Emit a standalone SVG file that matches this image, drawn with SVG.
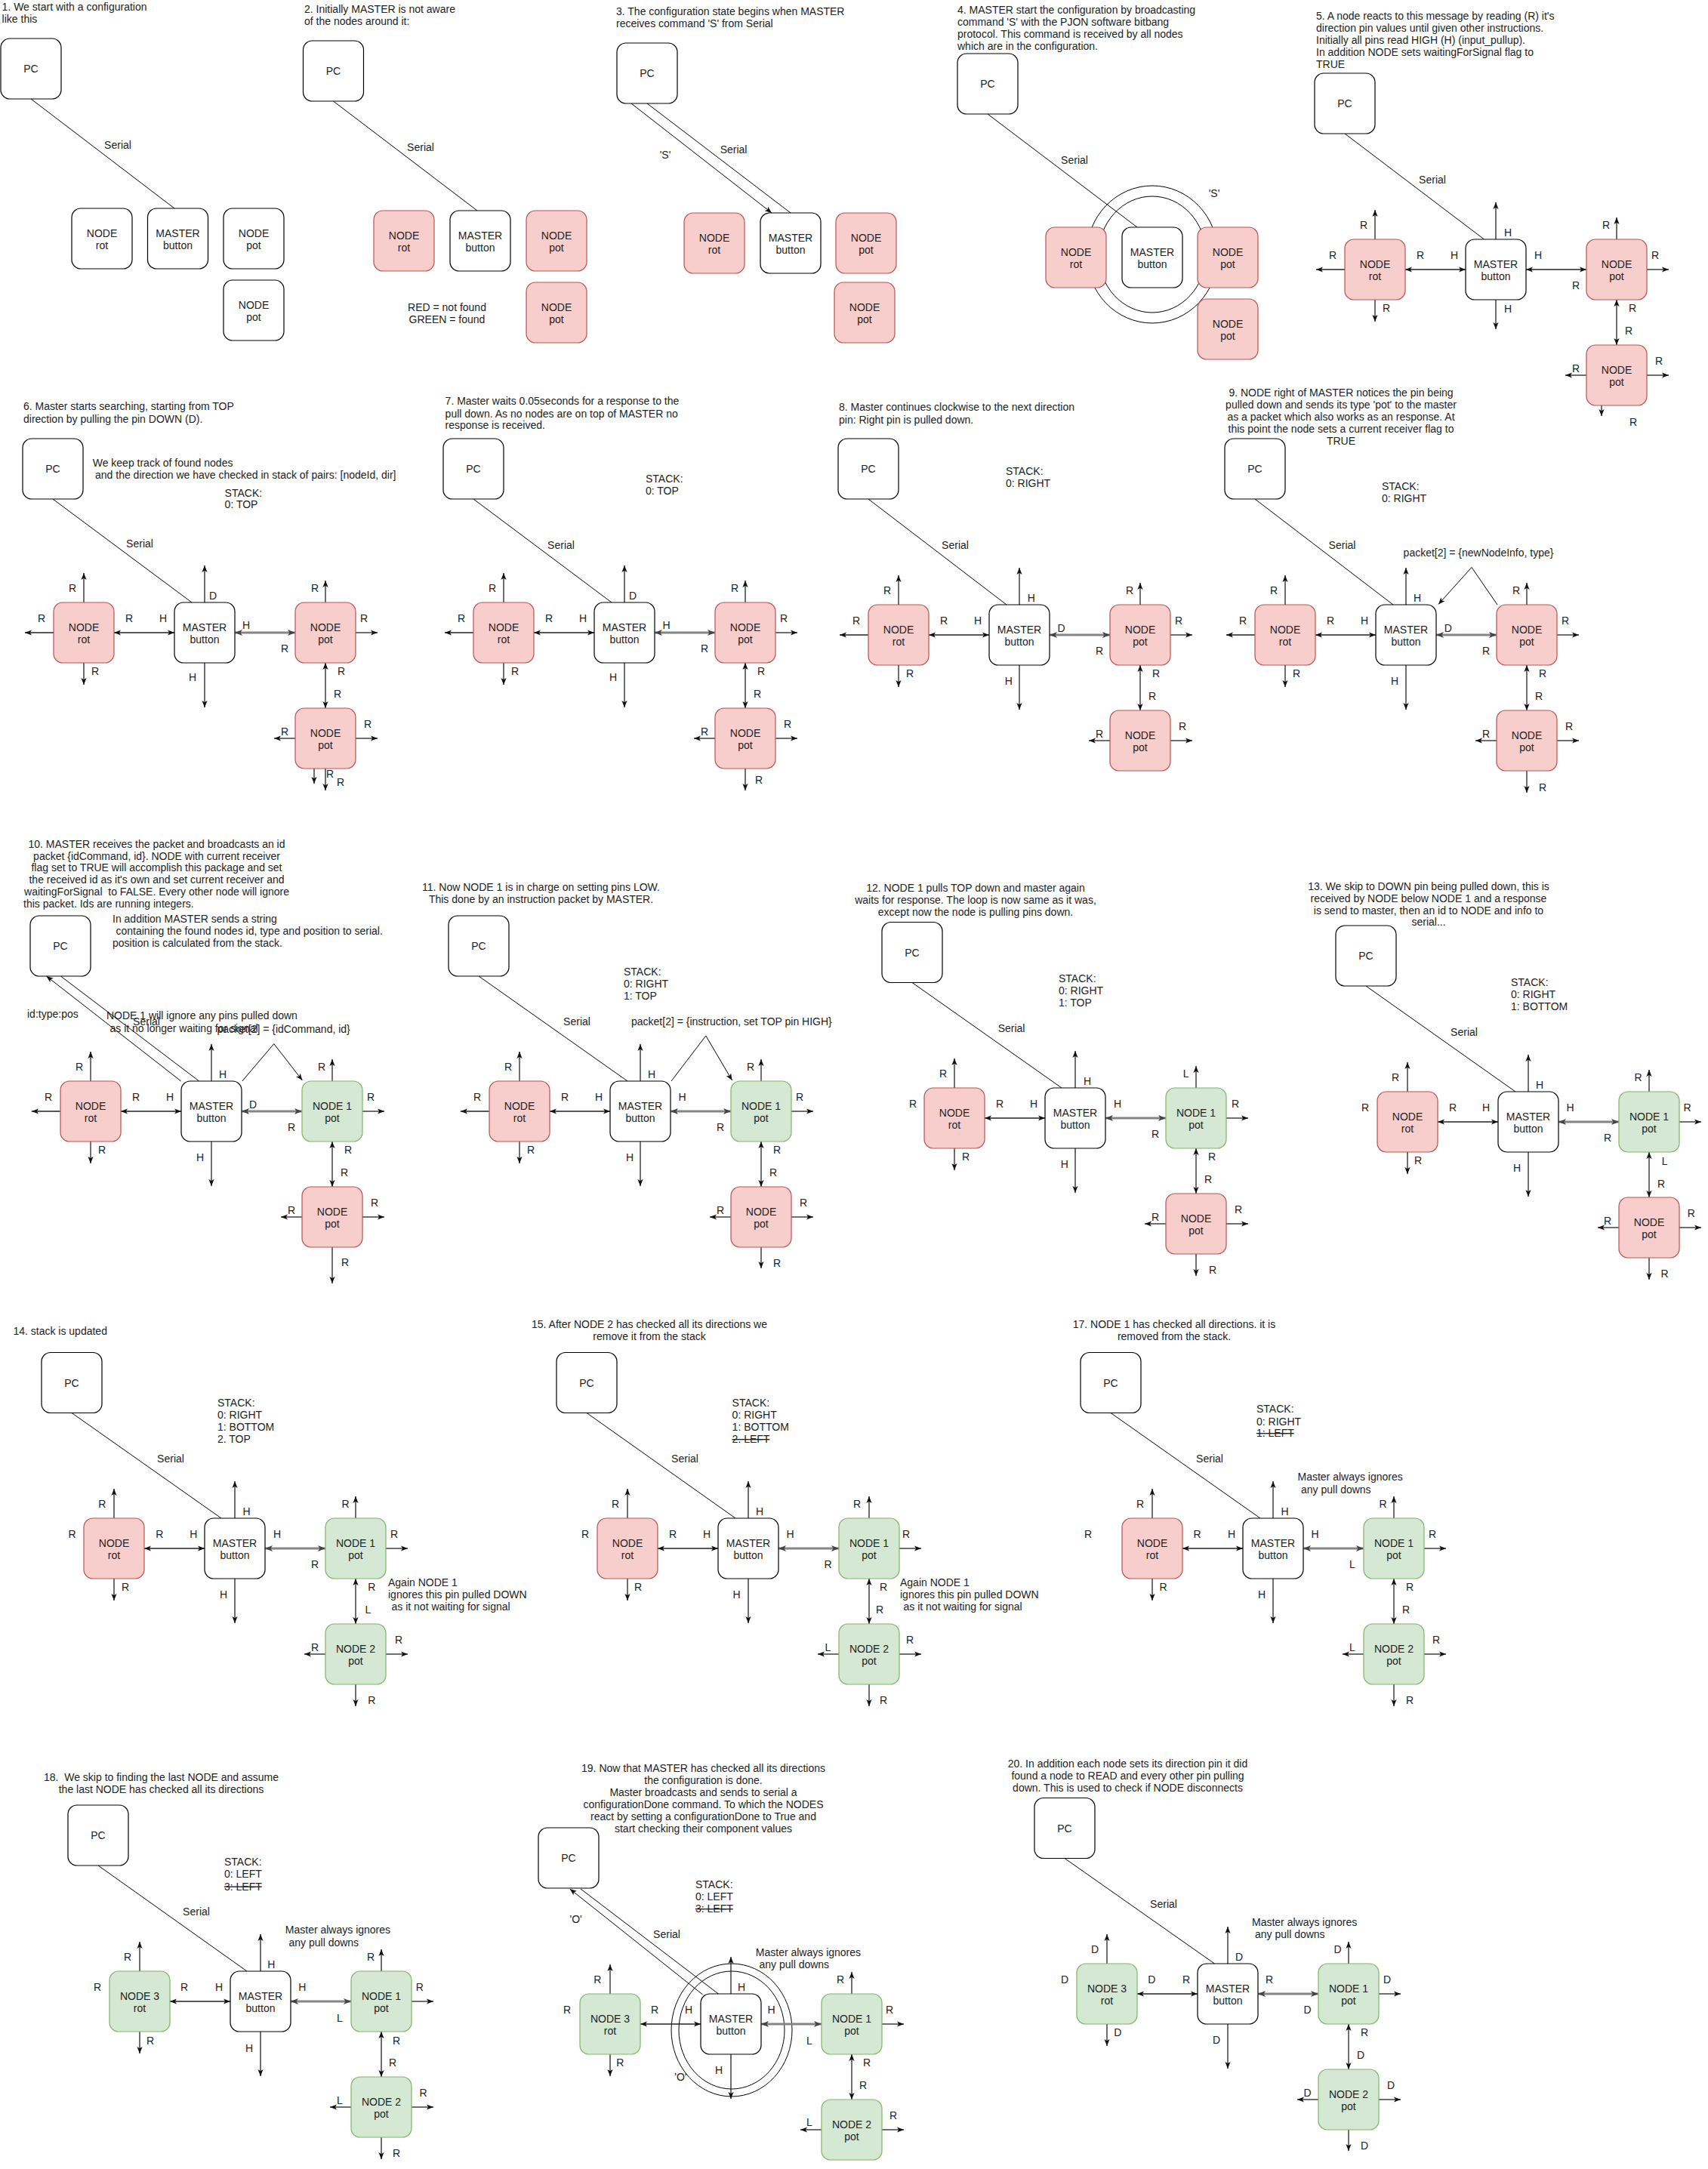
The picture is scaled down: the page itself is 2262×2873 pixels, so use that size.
<svg xmlns="http://www.w3.org/2000/svg" width="2262" height="2873" viewBox="0 0 2262 2873">
<defs>
<marker id="ah" viewBox="0 0 10 8" refX="10" refY="4" markerWidth="9" markerHeight="7.2" markerUnits="userSpaceOnUse" orient="auto-start-reverse"><path d="M0,0L10,4L0,8L2.5,4Z" fill="#111"/></marker>
<marker id="ahg" viewBox="0 0 10 8" refX="10" refY="4" markerWidth="10" markerHeight="8" markerUnits="userSpaceOnUse" orient="auto-start-reverse"><path d="M0,0L10,4L0,8L2.5,4Z" fill="#444"/></marker>
</defs>
<style>
text{font-family:"Liberation Sans",Arial,Helvetica,sans-serif;font-size:14px;fill:#222}
.m{text-anchor:middle}
.k{text-decoration:line-through}
.w{fill:#fff;stroke:#000;stroke-width:1.2}
.r{fill:#f8cecc;stroke:#b85450;stroke-width:1.2}
.g{fill:#d5e8d4;stroke:#82b366;stroke-width:1.2}
.s{fill:none;stroke:#000;stroke-width:1}
.sa{fill:none;stroke:#000;stroke-width:1;marker-end:url(#ah)}
.p{fill:none;stroke:#222;stroke-width:1.3;marker-end:url(#ah)}
.pd{fill:none;stroke:#222;stroke-width:1.3;marker-start:url(#ah);marker-end:url(#ah)}
.gd{fill:none;stroke:#858585;stroke-width:3;marker-start:url(#ahg);marker-end:url(#ahg)}
.ci{fill:none;stroke:#000;stroke-width:1}
</style>
<rect width="2262" height="2873" fill="#fff"/>

<!-- PANEL 1 -->
<g id="panel1">
<text x="2.6" y="14.3">1. We start with a configuration</text>
<text x="2.6" y="30">like this</text>
<g id="p1-connectors"><path class="s" d="M41,131L231,276"/><text class="m" x="156" y="197">Serial</text></g>
<g id="p1-pc"><rect class="w" x="1" y="51" width="80" height="80" rx="12"/><text class="m" x="41" y="96">PC</text></g>
<g id="p1-rot"><rect class="w" x="95" y="276" width="80" height="80" rx="12"/><text class="m" x="135" y="313.5">NODE</text><text class="m" x="135" y="330">rot</text></g>
<g id="p1-master"><rect class="w" x="195.5" y="276" width="80" height="80" rx="12"/><text class="m" x="235.5" y="313.5">MASTER</text><text class="m" x="235.5" y="330">button</text></g>
<g id="p1-pot1"><rect class="w" x="296" y="276" width="80" height="80" rx="12"/><text class="m" x="336" y="313.5">NODE</text><text class="m" x="336" y="330">pot</text></g>
<g id="p1-pot2"><rect class="w" x="296" y="371" width="80" height="80" rx="12"/><text class="m" x="336" y="408.5">NODE</text><text class="m" x="336" y="425">pot</text></g>
</g>

<!-- PANEL 2 -->
<g id="panel2">
<text x="403" y="17.3">2. Initially MASTER is not aware</text>
<text x="403" y="33">of the nodes around it:</text>
<g id="p2-connectors"><path class="s" d="M441.5,134L632,279"/><text class="m" x="557" y="200">Serial</text></g>
<g id="p2-pc"><rect class="w" x="401.5" y="54" width="80" height="80" rx="12"/><text class="m" x="441.5" y="99">PC</text></g>
<g id="p2-rot"><rect class="r" x="495" y="279" width="80" height="80" rx="12"/><text class="m" x="535" y="316.5">NODE</text><text class="m" x="535" y="333">rot</text></g>
<g id="p2-master"><rect class="w" x="596" y="279" width="80" height="80" rx="12"/><text class="m" x="636" y="316.5">MASTER</text><text class="m" x="636" y="333">button</text></g>
<g id="p2-pot1"><rect class="r" x="697" y="279" width="80" height="80" rx="12"/><text class="m" x="737" y="316.5">NODE</text><text class="m" x="737" y="333">pot</text></g>
<g id="p2-pot2"><rect class="r" x="697" y="374" width="80" height="80" rx="12"/><text class="m" x="737" y="411.5">NODE</text><text class="m" x="737" y="428">pot</text></g>
<text class="m" x="592" y="412">RED = not found</text>
<text class="m" x="592" y="428">GREEN = found</text>
</g>

<!-- PANEL 3 -->
<g id="panel3">
<text x="816" y="20">3. The configuration state begins when MASTER</text>
<text x="816" y="36">receives command 'S' from Serial</text>
<g id="p3-connectors"><path class="sa" d="M836,137L1022,282"/><path class="s" d="M857,137L1047,282"/><text class="m" x="971.6" y="203">Serial</text><text class="m" x="881" y="210">'S'</text></g>
<g id="p3-pc"><rect class="w" x="817" y="57" width="80" height="80" rx="12"/><text class="m" x="857" y="102">PC</text></g>
<g id="p3-rot"><rect class="r" x="906" y="282" width="80" height="80" rx="12"/><text class="m" x="946" y="319.5">NODE</text><text class="m" x="946" y="336">rot</text></g>
<g id="p3-master"><rect class="w" x="1007" y="282" width="80" height="80" rx="12"/><text class="m" x="1047" y="319.5">MASTER</text><text class="m" x="1047" y="336">button</text></g>
<g id="p3-pot1"><rect class="r" x="1107" y="282" width="80" height="80" rx="12"/><text class="m" x="1147" y="319.5">NODE</text><text class="m" x="1147" y="336">pot</text></g>
<g id="p3-pot2"><rect class="r" x="1105" y="374" width="80" height="80" rx="12"/><text class="m" x="1145" y="411.5">NODE</text><text class="m" x="1145" y="428">pot</text></g>
</g>

<!-- PANEL 4 -->
<g id="panel4">
<text x="1268" y="18">4. MASTER start the configuration by broadcasting</text>
<text x="1268" y="34">command 'S' with the PJON software bitbang</text>
<text x="1268" y="50">protocol. This command is received by all nodes</text>
<text x="1268" y="66">which are in the configuration.</text>
<g id="p4-broadcast"><ellipse class="ci" cx="1526" cy="337" rx="87" ry="91"/><ellipse class="ci" cx="1526" cy="337" rx="71" ry="77"/></g>
<g id="p4-connectors"><path class="s" d="M1308,151L1506,301"/><text class="m" x="1423" y="217">Serial</text><text class="m" x="1608" y="261">'S'</text></g>
<g id="p4-pc"><rect class="w" x="1268" y="71" width="80" height="80" rx="12"/><text class="m" x="1308" y="116">PC</text></g>
<g id="p4-rot"><rect class="r" x="1385" y="301" width="80" height="80" rx="12"/><text class="m" x="1425" y="338.5">NODE</text><text class="m" x="1425" y="355">rot</text></g>
<g id="p4-master"><rect class="w" x="1486" y="301" width="80" height="80" rx="12"/><text class="m" x="1526" y="338.5">MASTER</text><text class="m" x="1526" y="355">button</text></g>
<g id="p4-pot1"><rect class="r" x="1586" y="301" width="80" height="80" rx="12"/><text class="m" x="1626" y="338.5">NODE</text><text class="m" x="1626" y="355">pot</text></g>
<g id="p4-pot2"><rect class="r" x="1586" y="396" width="80" height="80" rx="12"/><text class="m" x="1626" y="433.5">NODE</text><text class="m" x="1626" y="450">pot</text></g>
</g>

<!-- PANEL 5 -->
<g id="panel5">
<text x="1743" y="26">5. A node reacts to this message by reading (R) it's</text>
<text x="1743" y="42">direction pin values until given other instructions.</text>
<text x="1743" y="58">Initially all pins read HIGH (H) (input_pullup).</text>
<text x="1743" y="74">In addition NODE sets waitingForSignal flag to</text>
<text x="1743" y="90">TRUE</text>
<g id="p5-serial"><path class="s" d="M1781,177L1965.5,317"/><text class="m" x="1897" y="243">Serial</text></g>
<g id="p5-pc"><rect class="w" x="1741" y="97" width="80" height="80" rx="12"/><text class="m" x="1781" y="142">PC</text></g>
<g transform="translate(1941,317)">
<g id="p5-connectors">
<path class="p" d="M-120,0V-39"/><path class="p" d="M-160,40H-198"/><path class="p" d="M-120,80V109"/><path class="pd" d="M-80,40H0"/>
<path class="p" d="M40,0V-49"/><path class="p" d="M40,80V119"/><path class="pd" d="M80,40H160"/>
<path class="p" d="M200,0V-29"/><path class="p" d="M240,40H269"/><path class="pd" d="M200,80V140"/>
<path class="p" d="M160,180H132"/><path class="p" d="M240,180H269"/><path class="p" d="M180,220V234"/>
</g>
<g id="p5-rot"><rect class="r" x="-160" y="0" width="80" height="80" rx="12"/><text class="m" x="-120" y="37.5">NODE</text><text class="m" x="-120" y="54">rot</text></g>
<g id="p5-master"><rect class="w" x="0" y="0" width="80" height="80" rx="12"/><text class="m" x="40" y="37.5">MASTER</text><text class="m" x="40" y="54">button</text></g>
<g id="p5-pot1"><rect class="r" x="160" y="0" width="80" height="80" rx="12"/><text class="m" x="200" y="37.5">NODE</text><text class="m" x="200" y="54">pot</text></g>
<g id="p5-pot2"><rect class="r" x="160" y="140" width="80" height="80" rx="12"/><text class="m" x="200" y="177.5">NODE</text><text class="m" x="200" y="194">pot</text></g>
<g class="m">
<text x="-135" y="-14">R</text><text x="-176" y="26">R</text><text x="-60" y="26">R</text><text x="-15" y="26">H</text><text x="-105" y="96">R</text>
<text x="56" y="-4">H</text><text x="96" y="26">H</text><text x="56" y="96.5">H</text>
<text x="186" y="-14">R</text><text x="251" y="26">R</text><text x="146" y="66">R</text><text x="221" y="96">R</text>
<text x="216" y="126">R</text><text x="146" y="176">R</text><text x="256" y="166">R</text><text x="222" y="246.5">R</text>
</g>
</g>
</g>

<!-- PANEL 6 -->
<g id="panel6">
<text x="31" y="543.4">6. Master starts searching, starting from TOP</text>
<text x="31" y="560">direction by pulling the pin DOWN (D).</text>
<text x="122.7" y="617.8">We keep track of found nodes</text>
<text x="126" y="633.6"> and the direction we have checked in stack of pairs: [nodeId, dir]</text>
<text x="297.6" y="657.6">STACK:</text><text x="297.6" y="673">0: TOP</text>
<g id="p6-serial"><path class="s" d="M70,661L254,798"/><text class="m" x="185" y="725">Serial</text></g>
<g id="p6-pc"><rect class="w" x="30" y="581" width="80" height="80" rx="12"/><text class="m" x="70" y="626">PC</text></g>
<g transform="translate(231,798)">
<g id="p6-connectors">
<path class="p" d="M-120,0V-39"/><path class="p" d="M-160,40H-198"/><path class="p" d="M-120,80V109"/><path class="pd" d="M-80,40H0"/>
<path class="p" d="M40,0V-49"/><path class="p" d="M40,80V139"/><path class="gd" d="M80,40H160"/>
<path class="p" d="M200,0V-29"/><path class="p" d="M240,40H269"/><path class="pd" d="M200,80V140"/>
<path class="p" d="M160,180H132"/><path class="p" d="M240,180H269"/><path class="p" d="M200,220V249"/><path class="p" d="M185,212V240"/>
</g>
<g id="p6-rot"><rect class="r" x="-160" y="0" width="80" height="80" rx="12"/><text class="m" x="-120" y="37.5">NODE</text><text class="m" x="-120" y="54">rot</text></g>
<g id="p6-master"><rect class="w" x="0" y="0" width="80" height="80" rx="12"/><text class="m" x="40" y="37.5">MASTER</text><text class="m" x="40" y="54">button</text></g>
<g id="p6-pot1"><rect class="r" x="160" y="0" width="80" height="80" rx="12"/><text class="m" x="200" y="37.5">NODE</text><text class="m" x="200" y="54">pot</text></g>
<g id="p6-pot2"><rect class="r" x="160" y="140" width="80" height="80" rx="12"/><text class="m" x="200" y="177.5">NODE</text><text class="m" x="200" y="194">pot</text></g>
<g class="m">
<text x="-135" y="-14">R</text><text x="-176" y="26">R</text><text x="-60" y="26">R</text><text x="-15" y="26">H</text><text x="-105" y="96">R</text>
<text x="51" y="-4">D</text><text x="95" y="35">H</text><text x="24" y="104">H</text>
<text x="186" y="-14">R</text><text x="251" y="26">R</text><text x="146" y="66">R</text><text x="221" y="96">R</text>
<text x="216" y="126">R</text><text x="146" y="176">R</text><text x="256" y="166">R</text><text x="206" y="232">R</text><text x="220" y="242.5">R</text>
</g>
</g>
</g>

<!-- PANEL 7 -->
<g id="panel7">
<text x="589.6" y="536.4">7. Master waits 0.05seconds for a response to the</text>
<text x="589.6" y="552.5">pull down. As no nodes are on top of MASTER no</text>
<text x="589.6" y="568">response is received.</text>
<text x="855" y="639">STACK:</text><text x="855" y="655">0: TOP</text>
<g id="p7-serial"><path class="s" d="M627,661L810,798"/><text class="m" x="743" y="727">Serial</text></g>
<g id="p7-pc"><rect class="w" x="587" y="581" width="80" height="80" rx="12"/><text class="m" x="627" y="626">PC</text></g>
<g transform="translate(787,798)">
<g id="p7-connectors">
<path class="p" d="M-120,0V-39"/><path class="p" d="M-160,40H-198"/><path class="p" d="M-120,80V109"/><path class="pd" d="M-80,40H0"/>
<path class="p" d="M40,0V-49"/><path class="p" d="M40,80V139"/><path class="gd" d="M80,40H160"/>
<path class="p" d="M200,0V-29"/><path class="p" d="M240,40H269"/><path class="pd" d="M200,80V140"/>
<path class="p" d="M160,180H132"/><path class="p" d="M240,180H269"/><path class="p" d="M200,220V249"/>
</g>
<g id="p7-rot"><rect class="r" x="-160" y="0" width="80" height="80" rx="12"/><text class="m" x="-120" y="37.5">NODE</text><text class="m" x="-120" y="54">rot</text></g>
<g id="p7-master"><rect class="w" x="0" y="0" width="80" height="80" rx="12"/><text class="m" x="40" y="37.5">MASTER</text><text class="m" x="40" y="54">button</text></g>
<g id="p7-pot1"><rect class="r" x="160" y="0" width="80" height="80" rx="12"/><text class="m" x="200" y="37.5">NODE</text><text class="m" x="200" y="54">pot</text></g>
<g id="p7-pot2"><rect class="r" x="160" y="140" width="80" height="80" rx="12"/><text class="m" x="200" y="177.5">NODE</text><text class="m" x="200" y="194">pot</text></g>
<g class="m">
<text x="-135" y="-14">R</text><text x="-176" y="26">R</text><text x="-60" y="26">R</text><text x="-15" y="26">H</text><text x="-105" y="96">R</text>
<text x="51" y="-4">D</text><text x="95.6" y="35">H</text><text x="25" y="104">H</text>
<text x="186" y="-14">R</text><text x="251" y="26">R</text><text x="146" y="66">R</text><text x="221" y="96">R</text>
<text x="216" y="126">R</text><text x="146" y="176">R</text><text x="256" y="166">R</text><text x="218" y="240">R</text>
</g>
</g>
</g>

<!-- PANEL 8 -->
<g id="panel8">
<text x="1111" y="544">8. Master continues clockwise to the next direction</text>
<text x="1111" y="560.5">pin: Right pin is pulled down.</text>
<text x="1332" y="629">STACK:</text><text x="1332" y="645">0: RIGHT</text>
<g id="p8-serial"><path class="s" d="M1150,661L1333,801"/><text class="m" x="1265" y="727">Serial</text></g>
<g id="p8-pc"><rect class="w" x="1110" y="581" width="80" height="80" rx="12"/><text class="m" x="1150" y="626">PC</text></g>
<g transform="translate(1310,801)">
<g id="p8-connectors">
<path class="p" d="M-120,0V-39"/><path class="p" d="M-160,40H-198"/><path class="p" d="M-120,80V109"/><path class="pd" d="M-80,40H0"/>
<path class="p" d="M40,0V-49"/><path class="p" d="M40,80V139"/><path class="gd" d="M80,40H160"/>
<path class="p" d="M200,0V-29"/><path class="p" d="M240,40H269"/><path class="pd" d="M200,80V140"/>
<path class="p" d="M160,180H132"/><path class="p" d="M240,180H269"/>
</g>
<g id="p8-rot"><rect class="r" x="-160" y="0" width="80" height="80" rx="12"/><text class="m" x="-120" y="37.5">NODE</text><text class="m" x="-120" y="54">rot</text></g>
<g id="p8-master"><rect class="w" x="0" y="0" width="80" height="80" rx="12"/><text class="m" x="40" y="37.5">MASTER</text><text class="m" x="40" y="54">button</text></g>
<g id="p8-pot1"><rect class="r" x="160" y="0" width="80" height="80" rx="12"/><text class="m" x="200" y="37.5">NODE</text><text class="m" x="200" y="54">pot</text></g>
<g id="p8-pot2"><rect class="r" x="160" y="140" width="80" height="80" rx="12"/><text class="m" x="200" y="177.5">NODE</text><text class="m" x="200" y="194">pot</text></g>
<g class="m">
<text x="-135" y="-14">R</text><text x="-176" y="26">R</text><text x="-60" y="26">R</text><text x="-15" y="26">H</text><text x="-105" y="96">R</text>
<text x="55.7" y="-4">H</text><text x="95.6" y="36">D</text><text x="25.7" y="106">H</text>
<text x="186" y="-14">R</text><text x="251" y="26">R</text><text x="146" y="66">R</text><text x="221" y="96">R</text>
<text x="216" y="126">R</text><text x="146" y="176">R</text><text x="256" y="166">R</text>
</g>
</g>
</g>

<!-- PANEL 9 -->
<g id="panel9">
<text class="m" x="1776" y="525">9. NODE right of MASTER notices the pin being</text>
<text class="m" x="1776" y="541">pulled down and sends its type 'pot' to the master</text>
<text class="m" x="1776" y="557">as a packet which also works as an response. At</text>
<text class="m" x="1776" y="573">this point the node sets a current receiver flag to</text>
<text class="m" x="1776" y="589">TRUE</text>
<text x="1830" y="649">STACK:</text><text x="1830" y="665">0: RIGHT</text>
<text x="1858.6" y="737">packet[2] = {newNodeInfo, type}</text>
<g id="p9-serial"><path class="s" d="M1662,661L1845,801"/><text class="m" x="1777.5" y="727">Serial</text></g>
<g id="p9-pc"><rect class="w" x="1622" y="581" width="80" height="80" rx="12"/><text class="m" x="1662" y="626">PC</text></g>
<g transform="translate(1822,801)">
<g id="p9-connectors">
<path class="p" d="M-120,0V-39"/><path class="p" d="M-160,40H-198"/><path class="p" d="M-120,80V109"/><path class="pd" d="M-80,40H0"/>
<path class="p" d="M40,0V-49"/><path class="p" d="M40,80V139"/><path class="gd" d="M80,40H160"/>
<path class="p" d="M200,0V-29"/><path class="p" d="M240,40H269"/><path class="pd" d="M200,80V140"/>
<path class="p" d="M160,180H132"/><path class="p" d="M240,180H269"/><path class="p" d="M200,220V249"/>
<path class="sa" d="M161,0L127,-49.5L83,-0.6"/>
</g>
<g id="p9-rot"><rect class="r" x="-160" y="0" width="80" height="80" rx="12"/><text class="m" x="-120" y="37.5">NODE</text><text class="m" x="-120" y="54">rot</text></g>
<g id="p9-master"><rect class="w" x="0" y="0" width="80" height="80" rx="12"/><text class="m" x="40" y="37.5">MASTER</text><text class="m" x="40" y="54">button</text></g>
<g id="p9-pot1"><rect class="r" x="160" y="0" width="80" height="80" rx="12"/><text class="m" x="200" y="37.5">NODE</text><text class="m" x="200" y="54">pot</text></g>
<g id="p9-pot2"><rect class="r" x="160" y="140" width="80" height="80" rx="12"/><text class="m" x="200" y="177.5">NODE</text><text class="m" x="200" y="194">pot</text></g>
<g class="m">
<text x="-135" y="-14">R</text><text x="-176" y="26">R</text><text x="-60" y="26">R</text><text x="-15" y="26">H</text><text x="-105" y="96">R</text>
<text x="55" y="-4">H</text><text x="95.7" y="36">D</text><text x="25" y="106">H</text>
<text x="186" y="-14">R</text><text x="251" y="26">R</text><text x="146" y="66">R</text><text x="221" y="96">R</text>
<text x="216" y="126">R</text><text x="146" y="176">R</text><text x="256" y="166">R</text><text x="221" y="246.6">R</text>
</g>
</g>
</g>

<!-- PANEL 10 -->
<g id="panel10">
<text class="m" x="207.5" y="1122.7">10. MASTER receives the packet and broadcasts an id</text>
<text class="m" x="207.5" y="1138.5">packet {idCommand, id}. NODE with current receiver</text>
<text class="m" x="207.5" y="1154.3">flag set to TRUE will accomplish this package and set</text>
<text class="m" x="207.5" y="1170">the received id as it's own and set current receiver and</text>
<text class="m" x="207.5" y="1186">waitingForSignal&#160; to FALSE. Every other node will ignore</text>
<text x="31" y="1202">this packet. Ids are running integers.</text>
<text x="149" y="1222">In addition MASTER sends a string</text>
<text x="153.5" y="1238">containing the found nodes id, type and position to serial.</text>
<text x="149" y="1254">position is calculated from the stack.</text>
<text x="36" y="1348">id:type:pos</text>
<text x="141" y="1350">NODE 1 will ignore any pins pulled down</text>
<text x="145.5" y="1366.6">as it no longer waiting for signal</text>
<text x="287.5" y="1368">packet[2] = {idCommand, id}</text>
<g id="p10-serial"><path class="sa" d="M239.7,1432L61.5,1293"/><path class="s" d="M263.6,1432L80.4,1293"/><text class="m" x="194" y="1358">Serial</text></g>
<g id="p10-pc"><rect class="w" x="40" y="1213" width="80" height="80" rx="12"/><text class="m" x="80" y="1258">PC</text></g>
<g transform="translate(240,1432)">
<g id="p10-connectors">
<path class="p" d="M-120,0V-39"/><path class="p" d="M-160,40H-198"/><path class="p" d="M-120,80V109"/><path class="pd" d="M-80,40H0"/>
<path class="p" d="M40,0V-49"/><path class="p" d="M40,80V139"/><path class="gd" d="M80,40H160"/>
<path class="p" d="M200,0V-29"/><path class="p" d="M240,40H269"/><path class="pd" d="M200,80V140"/>
<path class="p" d="M160,180H132"/><path class="p" d="M240,180H269"/><path class="p" d="M200,220V268"/>
<path class="sa" d="M80.8,0L122.8,-49.4L160.4,-1"/>
</g>
<g id="p10-rot"><rect class="r" x="-160" y="0" width="80" height="80" rx="12"/><text class="m" x="-120" y="37.5">NODE</text><text class="m" x="-120" y="54">rot</text></g>
<g id="p10-master"><rect class="w" x="0" y="0" width="80" height="80" rx="12"/><text class="m" x="40" y="37.5">MASTER</text><text class="m" x="40" y="54">button</text></g>
<g id="p10-node1"><rect class="g" x="160" y="0" width="80" height="80" rx="12"/><text class="m" x="200" y="37.5">NODE 1</text><text class="m" x="200" y="54">pot</text></g>
<g id="p10-pot2"><rect class="r" x="160" y="140" width="80" height="80" rx="12"/><text class="m" x="200" y="177.5">NODE</text><text class="m" x="200" y="194">pot</text></g>
<g class="m">
<text x="-135" y="-14">R</text><text x="-176" y="26">R</text><text x="-60" y="26">R</text><text x="-15" y="26">H</text><text x="-105" y="96">R</text>
<text x="55" y="-4">H</text><text x="95" y="36">D</text><text x="25" y="106">H</text>
<text x="186" y="-14">R</text><text x="251" y="26">R</text><text x="146" y="66">R</text><text x="221" y="96">R</text>
<text x="216" y="126">R</text><text x="146" y="176">R</text><text x="256" y="166">R</text><text x="217" y="245">R</text>
</g>
</g>
</g>

<!-- PANEL 11 -->
<g id="panel11">
<text class="m" x="716.5" y="1180">11. Now NODE 1 is in charge on setting pins LOW.</text>
<text class="m" x="716.5" y="1196">This done by an instruction packet by MASTER.</text>
<text x="826" y="1292">STACK:</text><text x="826" y="1308">0: RIGHT</text><text x="826" y="1323.5">1: TOP</text>
<text x="836" y="1358">packet[2] = {instruction, set TOP pin HIGH}</text>
<g id="p11-serial"><path class="s" d="M634,1293L831,1432"/><text class="m" x="764" y="1358">Serial</text></g>
<g id="p11-pc"><rect class="w" x="594" y="1213" width="80" height="80" rx="12"/><text class="m" x="634" y="1258">PC</text></g>
<g transform="translate(808,1432)">
<g id="p11-connectors">
<path class="p" d="M-120,0V-39"/><path class="p" d="M-160,40H-198"/><path class="p" d="M-120,80V109"/><path class="pd" d="M-80,40H0"/>
<path class="p" d="M40,0V-49"/><path class="p" d="M40,80V139"/><path class="gd" d="M80,40H160"/>
<path class="p" d="M200,0V-29"/><path class="p" d="M240,40H269"/><path class="pd" d="M200,80V140"/>
<path class="p" d="M160,180H132"/><path class="p" d="M240,180H269"/><path class="p" d="M200,220V248"/>
<path class="sa" d="M81,0L126.8,-60L161.6,-1"/>
</g>
<g id="p11-rot"><rect class="r" x="-160" y="0" width="80" height="80" rx="12"/><text class="m" x="-120" y="37.5">NODE</text><text class="m" x="-120" y="54">rot</text></g>
<g id="p11-master"><rect class="w" x="0" y="0" width="80" height="80" rx="12"/><text class="m" x="40" y="37.5">MASTER</text><text class="m" x="40" y="54">button</text></g>
<g id="p11-node1"><rect class="g" x="160" y="0" width="80" height="80" rx="12"/><text class="m" x="200" y="37.5">NODE 1</text><text class="m" x="200" y="54">pot</text></g>
<g id="p11-pot2"><rect class="r" x="160" y="140" width="80" height="80" rx="12"/><text class="m" x="200" y="177.5">NODE</text><text class="m" x="200" y="194">pot</text></g>
<g class="m">
<text x="-135" y="-14">R</text><text x="-176" y="26">R</text><text x="-60" y="26">R</text><text x="-15" y="26">H</text><text x="-105" y="96">R</text>
<text x="55" y="-4">H</text><text x="95.5" y="26">H</text><text x="26" y="106">H</text>
<text x="186" y="-14">R</text><text x="251" y="26">R</text><text x="146" y="66">R</text><text x="221" y="96">R</text>
<text x="216" y="126">R</text><text x="146" y="176">R</text><text x="256" y="166">R</text><text x="221" y="246">R</text>
</g>
</g>
</g>

<!-- PANEL 12 -->
<g id="panel12">
<text class="m" x="1292" y="1181">12. NODE 1 pulls TOP down and master again</text>
<text class="m" x="1292" y="1197">waits for response. The loop is now same as it was,</text>
<text class="m" x="1292" y="1213">except now the node is pulling pins down.</text>
<text x="1402" y="1301">STACK:</text><text x="1402" y="1317">0: RIGHT</text><text x="1402" y="1333">1: TOP</text>
<g id="p12-serial"><path class="s" d="M1208,1301.5L1406,1441"/><text class="m" x="1339.6" y="1367">Serial</text></g>
<g id="p12-pc"><rect class="w" x="1168" y="1221.5" width="80" height="80" rx="12"/><text class="m" x="1208" y="1266.5">PC</text></g>
<g transform="translate(1384,1441)">
<g id="p12-connectors">
<path class="p" d="M-120,0V-39"/><path class="p" d="M-120,80V109"/><path class="pd" d="M-80,40H0"/>
<path class="p" d="M40,0V-49"/><path class="p" d="M40,80V139"/><path class="gd" d="M80,40H160"/>
<path class="p" d="M200,0V-29"/><path class="p" d="M240,40H269"/><path class="pd" d="M200,80V140"/>
<path class="p" d="M160,180H132"/><path class="p" d="M240,180H269"/><path class="p" d="M200,220V249"/>
</g>
<g id="p12-rot"><rect class="r" x="-160" y="0" width="80" height="80" rx="12"/><text class="m" x="-120" y="37.5">NODE</text><text class="m" x="-120" y="54">rot</text></g>
<g id="p12-master"><rect class="w" x="0" y="0" width="80" height="80" rx="12"/><text class="m" x="40" y="37.5">MASTER</text><text class="m" x="40" y="54">button</text></g>
<g id="p12-node1"><rect class="g" x="160" y="0" width="80" height="80" rx="12"/><text class="m" x="200" y="37.5">NODE 1</text><text class="m" x="200" y="54">pot</text></g>
<g id="p12-pot2"><rect class="r" x="160" y="140" width="80" height="80" rx="12"/><text class="m" x="200" y="177.5">NODE</text><text class="m" x="200" y="194">pot</text></g>
<g class="m">
<text x="-135" y="-14">R</text><text x="-175" y="26">R</text><text x="-60" y="26">R</text><text x="-15" y="26">H</text><text x="-105" y="96">R</text>
<text x="56" y="-4">H</text><text x="96" y="26">H</text><text x="25.7" y="106">H</text>
<text x="186.7" y="-14">L</text><text x="252" y="26">R</text><text x="146" y="66">R</text><text x="221" y="96">R</text>
<text x="216" y="126">R</text><text x="146" y="176">R</text><text x="256" y="166">R</text><text x="222" y="246">R</text>
</g>
</g>
</g>

<!-- PANEL 13 -->
<g id="panel13">
<text class="m" x="1892" y="1179">13. We skip to DOWN pin being pulled down, this is</text>
<text class="m" x="1892" y="1195">received by NODE below NODE 1 and a response</text>
<text class="m" x="1892" y="1210.5">is send to master, then an id to NODE and info to</text>
<text class="m" x="1892" y="1226.4">serial...</text>
<text x="2001" y="1306">STACK:</text><text x="2001" y="1322">0: RIGHT</text><text x="2001" y="1338">1: BOTTOM</text>
<g id="p13-serial"><path class="s" d="M1809,1306L2007,1446"/><text class="m" x="1939" y="1372">Serial</text></g>
<g id="p13-pc"><rect class="w" x="1769" y="1226" width="80" height="80" rx="12"/><text class="m" x="1809" y="1271">PC</text></g>
<g transform="translate(1984,1446)">
<g id="p13-connectors">
<path class="p" d="M-120,0V-39"/><path class="p" d="M-120,80V109"/><path class="pd" d="M-80,40H0"/>
<path class="p" d="M40,0V-49"/><path class="p" d="M40,80V139"/><path class="gd" d="M80,40H160"/>
<path class="p" d="M200,0V-29"/><path class="p" d="M240,40H269"/><path class="pd" d="M200,80V140"/>
<path class="p" d="M160,180H132"/><path class="p" d="M240,180H269"/><path class="p" d="M200,220V249"/>
</g>
<g id="p13-rot"><rect class="r" x="-160" y="0" width="80" height="80" rx="12"/><text class="m" x="-120" y="37.5">NODE</text><text class="m" x="-120" y="54">rot</text></g>
<g id="p13-master"><rect class="w" x="0" y="0" width="80" height="80" rx="12"/><text class="m" x="40" y="37.5">MASTER</text><text class="m" x="40" y="54">button</text></g>
<g id="p13-node1"><rect class="g" x="160" y="0" width="80" height="80" rx="12"/><text class="m" x="200" y="37.5">NODE 1</text><text class="m" x="200" y="54">pot</text></g>
<g id="p13-pot2"><rect class="r" x="160" y="140" width="80" height="80" rx="12"/><text class="m" x="200" y="177.5">NODE</text><text class="m" x="200" y="194">pot</text></g>
<g class="m">
<text x="-136" y="-14">R</text><text x="-176" y="26">R</text><text x="-60" y="26">R</text><text x="-16" y="26">H</text><text x="-106" y="96">R</text>
<text x="55" y="-4">H</text><text x="95.5" y="26">H</text><text x="25" y="106">H</text>
<text x="185.5" y="-14">R</text><text x="250.6" y="26">R</text><text x="145" y="66">R</text><text x="220.6" y="96.7">L</text>
<text x="216" y="126.7">R</text><text x="145" y="176">R</text><text x="255.8" y="166">R</text><text x="220.6" y="245.8">R</text>
</g>
</g>
</g>

<!-- PANEL 14 -->
<g id="panel14">
<text x="17.4" y="1767.5">14. stack is updated</text>
<text x="288" y="1862.5">STACK:</text><text x="288" y="1879">0: RIGHT</text><text x="288" y="1895">1: BOTTOM</text><text x="288" y="1911">2. TOP</text>
<text x="514" y="2101">Again NODE 1</text>
<text x="514" y="2117">ignores this pin pulled DOWN</text>
<text x="518.5" y="2133">as it not waiting for signal</text>
<g id="p14-serial"><path class="s" d="M95,1871.5L293,2011"/><text class="m" x="226" y="1937">Serial</text></g>
<g id="p14-pc"><rect class="w" x="55" y="1791.5" width="80" height="80" rx="12"/><text class="m" x="95" y="1836.5">PC</text></g>
<g transform="translate(271,2011)">
<g id="p14-connectors">
<path class="p" d="M-120,0V-39"/><path class="p" d="M-120,80V109"/><path class="pd" d="M-80,40H0"/>
<path class="p" d="M40,0V-49"/><path class="p" d="M40,80V139"/><path class="gd" d="M80,40H160"/>
<path class="p" d="M200,0V-29"/><path class="p" d="M240,40H269"/><path class="pd" d="M200,80V140"/>
<path class="p" d="M160,180H132"/><path class="p" d="M240,180H269"/><path class="p" d="M200,220V249"/>
</g>
<g id="p14-rot"><rect class="r" x="-160" y="0" width="80" height="80" rx="12"/><text class="m" x="-120" y="37.5">NODE</text><text class="m" x="-120" y="54">rot</text></g>
<g id="p14-master"><rect class="w" x="0" y="0" width="80" height="80" rx="12"/><text class="m" x="40" y="37.5">MASTER</text><text class="m" x="40" y="54">button</text></g>
<g id="p14-node1"><rect class="g" x="160" y="0" width="80" height="80" rx="12"/><text class="m" x="200" y="37.5">NODE 1</text><text class="m" x="200" y="54">pot</text></g>
<g id="p14-node2"><rect class="g" x="160" y="140" width="80" height="80" rx="12"/><text class="m" x="200" y="177.5">NODE 2</text><text class="m" x="200" y="194">pot</text></g>
<g class="m">
<text x="-135.6" y="-14">R</text><text x="-175.4" y="26">R</text><text x="-59.6" y="26">R</text><text x="-14.7" y="26">H</text><text x="-105" y="96">R</text>
<text x="55.6" y="-4">H</text><text x="96" y="26">H</text><text x="25" y="106">H</text>
<text x="186.6" y="-14">R</text><text x="251" y="26">R</text><text x="146" y="66">R</text><text x="221.4" y="96">R</text>
<text x="216.3" y="126">L</text><text x="146" y="176">R</text><text x="257" y="166">R</text><text x="221.4" y="246">R</text>
</g>
</g>
</g>

<!-- PANEL 15 -->
<g id="panel15">
<text class="m" x="860" y="1759">15. After NODE 2 has checked all its directions we</text>
<text class="m" x="860" y="1775">remove it from the stack</text>
<text x="969.6" y="1862.5">STACK:</text><text x="969.6" y="1879">0: RIGHT</text><text x="969.6" y="1895">1: BOTTOM</text><text class="k" x="969.6" y="1911">2. LEFT</text>
<text x="1192" y="2101">Again NODE 1</text>
<text x="1192" y="2117">ignores this pin pulled DOWN</text>
<text x="1196.5" y="2133">as it not waiting for signal</text>
<g id="p15-serial"><path class="s" d="M777,1871.5L974,2011"/><text class="m" x="907" y="1937">Serial</text></g>
<g id="p15-pc"><rect class="w" x="737" y="1791.5" width="80" height="80" rx="12"/><text class="m" x="777" y="1836.5">PC</text></g>
<g transform="translate(951,2011)">
<g id="p15-connectors">
<path class="p" d="M-120,0V-39"/><path class="p" d="M-120,80V109"/><path class="pd" d="M-80,40H0"/>
<path class="p" d="M40,0V-49"/><path class="p" d="M40,80V139"/><path class="gd" d="M80,40H160"/>
<path class="p" d="M200,0V-29"/><path class="p" d="M240,40H269"/><path class="pd" d="M200,80V140"/>
<path class="p" d="M160,180H132"/><path class="p" d="M240,180H269"/><path class="p" d="M200,220V249"/>
</g>
<g id="p15-rot"><rect class="r" x="-160" y="0" width="80" height="80" rx="12"/><text class="m" x="-120" y="37.5">NODE</text><text class="m" x="-120" y="54">rot</text></g>
<g id="p15-master"><rect class="w" x="0" y="0" width="80" height="80" rx="12"/><text class="m" x="40" y="37.5">MASTER</text><text class="m" x="40" y="54">button</text></g>
<g id="p15-node1"><rect class="g" x="160" y="0" width="80" height="80" rx="12"/><text class="m" x="200" y="37.5">NODE 1</text><text class="m" x="200" y="54">pot</text></g>
<g id="p15-node2"><rect class="g" x="160" y="140" width="80" height="80" rx="12"/><text class="m" x="200" y="177.5">NODE 2</text><text class="m" x="200" y="194">pot</text></g>
<g class="m">
<text x="-136" y="-14">R</text><text x="-176" y="26">R</text><text x="-60" y="26">R</text><text x="-15" y="26">H</text><text x="-106" y="96">R</text>
<text x="55" y="-4">H</text><text x="95.5" y="26">H</text><text x="24.6" y="106">H</text>
<text x="184" y="-14">R</text><text x="249" y="26">R</text><text x="145.5" y="66">R</text><text x="219" y="96">R</text>
<text x="214" y="126">R</text><text x="145.5" y="176">L</text><text x="254" y="166">R</text><text x="219" y="246">R</text>
</g>
</g>
</g>

<!-- PANEL 17 -->
<g id="panel17">
<text class="m" x="1555" y="1759">17. NODE 1 has checked all directions. it is</text>
<text class="m" x="1555" y="1775">removed from the stack.</text>
<text x="1664" y="1871">STACK:</text><text x="1664" y="1887.5">0: RIGHT</text><text class="k" x="1664" y="1903">1: LEFT</text>
<text x="1718.5" y="1961">Master always ignores</text>
<text x="1723" y="1977.5">any pull downs</text>
<g id="p17-serial"><path class="s" d="M1471,1871.5L1669,2011"/><text class="m" x="1602" y="1937">Serial</text></g>
<g id="p17-pc"><rect class="w" x="1431" y="1791.5" width="80" height="80" rx="12"/><text class="m" x="1471" y="1836.5">PC</text></g>
<g transform="translate(1646,2011)">
<g id="p17-connectors">
<path class="p" d="M-120,0V-39"/><path class="p" d="M-120,80V109"/><path class="pd" d="M-80,40H0"/>
<path class="p" d="M40,0V-49"/><path class="p" d="M40,80V139"/><path class="gd" d="M80,40H160"/>
<path class="p" d="M200,0V-29"/><path class="p" d="M240,40H269"/><path class="pd" d="M200,80V140"/>
<path class="p" d="M160,180H132"/><path class="p" d="M240,180H269"/><path class="p" d="M200,220V249"/>
</g>
<g id="p17-rot"><rect class="r" x="-160" y="0" width="80" height="80" rx="12"/><text class="m" x="-120" y="37.5">NODE</text><text class="m" x="-120" y="54">rot</text></g>
<g id="p17-master"><rect class="w" x="0" y="0" width="80" height="80" rx="12"/><text class="m" x="40" y="37.5">MASTER</text><text class="m" x="40" y="54">button</text></g>
<g id="p17-node1"><rect class="g" x="160" y="0" width="80" height="80" rx="12"/><text class="m" x="200" y="37.5">NODE 1</text><text class="m" x="200" y="54">pot</text></g>
<g id="p17-node2"><rect class="g" x="160" y="140" width="80" height="80" rx="12"/><text class="m" x="200" y="177.5">NODE 2</text><text class="m" x="200" y="194">pot</text></g>
<g class="m">
<text x="-136" y="-14">R</text><text x="-205" y="26">R</text><text x="-60.5" y="26">R</text><text x="-15" y="26">H</text><text x="-105.5" y="96">R</text>
<text x="55.6" y="-4">H</text><text x="95.5" y="26">H</text><text x="25" y="106">H</text>
<text x="185.5" y="-14">R</text><text x="251" y="26">R</text><text x="145" y="66">L</text><text x="221" y="96">R</text>
<text x="216" y="126">R</text><text x="145" y="176">L</text><text x="256" y="166">R</text><text x="221" y="246">R</text>
</g>
</g>
</g>

<!-- PANEL 18 -->
<g id="panel18">
<text class="m" x="213.5" y="2359">18.&#160; We skip to finding the last NODE and assume</text>
<text class="m" x="213.5" y="2375">the last NODE has checked all its directions</text>
<text x="297" y="2471">STACK:</text><text x="297" y="2487">0: LEFT</text><text class="k" x="297" y="2503.5">3: LEFT</text>
<text x="377.8" y="2561">Master always ignores</text>
<text x="382.5" y="2577.5">any pull downs</text>
<g id="p18-serial"><path class="s" d="M130,2471L327,2611"/><text class="m" x="260" y="2537">Serial</text></g>
<g id="p18-pc"><rect class="w" x="90" y="2391" width="80" height="80" rx="12"/><text class="m" x="130" y="2436">PC</text></g>
<g transform="translate(305,2611)">
<g id="p18-connectors">
<path class="p" d="M-120,0V-39"/><path class="p" d="M-120,80V109"/><path class="pd" d="M-80,40H0"/>
<path class="p" d="M40,0V-49"/><path class="p" d="M40,80V139"/><path class="gd" d="M80,40H160"/>
<path class="p" d="M200,0V-29"/><path class="p" d="M240,40H269"/><path class="pd" d="M200,80V140"/>
<path class="p" d="M160,180H132"/><path class="p" d="M240,180H269"/><path class="p" d="M200,220V249"/>
</g>
<g id="p18-node3"><rect class="g" x="-160" y="0" width="80" height="80" rx="12"/><text class="m" x="-120" y="37.5">NODE 3</text><text class="m" x="-120" y="54">rot</text></g>
<g id="p18-master"><rect class="w" x="0" y="0" width="80" height="80" rx="12"/><text class="m" x="40" y="37.5">MASTER</text><text class="m" x="40" y="54">button</text></g>
<g id="p18-node1"><rect class="g" x="160" y="0" width="80" height="80" rx="12"/><text class="m" x="200" y="37.5">NODE 1</text><text class="m" x="200" y="54">pot</text></g>
<g id="p18-node2"><rect class="g" x="160" y="140" width="80" height="80" rx="12"/><text class="m" x="200" y="177.5">NODE 2</text><text class="m" x="200" y="194">pot</text></g>
<g class="m">
<text x="-136" y="-14">R</text><text x="-176" y="26">R</text><text x="-61" y="26">R</text><text x="-15" y="26">H</text><text x="-106" y="97">R</text>
<text x="54.4" y="-4">H</text><text x="95.4" y="26">H</text><text x="25" y="107">H</text>
<text x="186" y="-14">R</text><text x="250.8" y="26">R</text><text x="145" y="66.7">L</text><text x="220" y="97">R</text>
<text x="215" y="126">R</text><text x="145" y="175.5">L</text><text x="255.5" y="166">R</text><text x="220" y="246">R</text>
</g>
</g>
</g>

<!-- PANEL 19 -->
<g id="panel19">
<text class="m" x="931.5" y="2347">19. Now that MASTER has checked all its directions</text>
<text class="m" x="931.5" y="2363">the configuration is done.</text>
<text class="m" x="931.5" y="2379">Master broadcasts and sends to serial a</text>
<text class="m" x="931.5" y="2395">configurationDone command. To which the NODES</text>
<text class="m" x="931.5" y="2411">react by setting a configurationDone to True and</text>
<text class="m" x="931.5" y="2427">start checking their component values</text>
<text x="921" y="2501">STACK:</text><text x="921" y="2517">0: LEFT</text><text class="k" x="921" y="2533">3: LEFT</text>
<text x="1000.8" y="2591">Master always ignores</text>
<text x="1005.5" y="2607">any pull downs</text>
<g id="p19-broadcast"><ellipse class="ci" cx="969" cy="2689" rx="80" ry="88"/><ellipse class="ci" cx="969" cy="2689" rx="70" ry="78"/></g>
<g id="p19-serial"><path class="sa" d="M930.6,2642L754.7,2502"/><path class="s" d="M952.7,2642L769,2502"/><text class="m" x="762.6" y="2546.6">'O'</text><text class="m" x="883" y="2567">Serial</text><text class="m" x="901.4" y="2756">'O'</text></g>
<g id="p19-pc"><rect class="w" x="713" y="2421" width="80" height="80" rx="12"/><text class="m" x="753" y="2466">PC</text></g>
<g transform="translate(928,2641)">
<g id="p19-connectors">
<path class="p" d="M-120,0V-39"/><path class="p" d="M-120,80V109"/><path class="pd" d="M-80,40H0"/>
<path class="p" d="M40,0V-49"/><path class="p" d="M40,80V139"/><path class="gd" d="M80,40H160"/>
<path class="p" d="M200,0V-29"/><path class="p" d="M240,40H269"/><path class="pd" d="M200,80V140"/>
<path class="p" d="M160,180H132"/><path class="p" d="M240,180H269"/>
</g>
<g id="p19-node3"><rect class="g" x="-160" y="0" width="80" height="80" rx="12"/><text class="m" x="-120" y="37.5">NODE 3</text><text class="m" x="-120" y="54">rot</text></g>
<g id="p19-master"><rect class="w" x="0" y="0" width="80" height="80" rx="12"/><text class="m" x="40" y="37.5">MASTER</text><text class="m" x="40" y="54">button</text></g>
<g id="p19-node1"><rect class="g" x="160" y="0" width="80" height="80" rx="12"/><text class="m" x="200" y="37.5">NODE 1</text><text class="m" x="200" y="54">pot</text></g>
<g id="p19-node2"><rect class="g" x="160" y="140" width="80" height="80" rx="12"/><text class="m" x="200" y="177.5">NODE 2</text><text class="m" x="200" y="194">pot</text></g>
<g class="m">
<text x="-136.6" y="-14">R</text><text x="-177" y="26">R</text><text x="-61" y="26">R</text><text x="-16" y="26">H</text><text x="-106.7" y="96">R</text>
<text x="54" y="-4">H</text><text x="93.6" y="26">H</text><text x="24" y="106">H</text>
<text x="185" y="-14">R</text><text x="250" y="26">R</text><text x="144" y="66.6">L</text><text x="220" y="96">R</text>
<text x="215" y="126">R</text><text x="144" y="175">L</text><text x="255" y="166">R</text>
</g>
</g>
</g>

<!-- PANEL 20 -->
<g id="panel20">
<text class="m" x="1493.5" y="2341">20. In addition each node sets its direction pin it did</text>
<text class="m" x="1493.5" y="2357">found a node to READ and every other pin pulling</text>
<text class="m" x="1493.5" y="2373">down. This is used to check if NODE disconnects</text>
<text x="1658" y="2551">Master always ignores</text>
<text x="1662" y="2567">any pull downs</text>
<g id="p20-serial"><path class="s" d="M1410,2461.5L1608.5,2601"/><text class="m" x="1541" y="2527">Serial</text></g>
<g id="p20-pc"><rect class="w" x="1370" y="2381.5" width="80" height="80" rx="12"/><text class="m" x="1410" y="2426.5">PC</text></g>
<g transform="translate(1586,2601)">
<g id="p20-connectors">
<path class="p" d="M-120,0V-39"/><path class="p" d="M-120,80V109"/><path class="pd" d="M-80,40H0"/>
<path class="p" d="M40,0V-49"/><path class="p" d="M40,80V139"/><path class="gd" d="M80,40H160"/>
<path class="p" d="M200,0V-29"/><path class="p" d="M240,40H269"/><path class="pd" d="M200,80V140"/>
<path class="p" d="M160,180H132"/><path class="p" d="M240,180H269"/><path class="p" d="M200,220V248"/>
</g>
<g id="p20-node3"><rect class="g" x="-160" y="0" width="80" height="80" rx="12"/><text class="m" x="-120" y="37.5">NODE 3</text><text class="m" x="-120" y="54">rot</text></g>
<g id="p20-master"><rect class="w" x="0" y="0" width="80" height="80" rx="12"/><text class="m" x="40" y="37.5">MASTER</text><text class="m" x="40" y="54">button</text></g>
<g id="p20-node1"><rect class="g" x="160" y="0" width="80" height="80" rx="12"/><text class="m" x="200" y="37.5">NODE 1</text><text class="m" x="200" y="54">pot</text></g>
<g id="p20-node2"><rect class="g" x="160" y="140" width="80" height="80" rx="12"/><text class="m" x="200" y="177.5">NODE 2</text><text class="m" x="200" y="194">pot</text></g>
<g class="m">
<text x="-136" y="-14">D</text><text x="-176" y="26">D</text><text x="-60.6" y="26">D</text><text x="-15" y="26">R</text><text x="-105.6" y="95.7">D</text>
<text x="55" y="-4">D</text><text x="95" y="26">R</text><text x="25" y="106">D</text>
<text x="185.5" y="-14">D</text><text x="251" y="26">D</text><text x="145.5" y="66">D</text><text x="221" y="96.4">R</text>
<text x="216" y="126">D</text><text x="145.5" y="176">D</text><text x="256" y="166">D</text><text x="221" y="246">D</text>
</g>
</g>
</g>
</svg>
